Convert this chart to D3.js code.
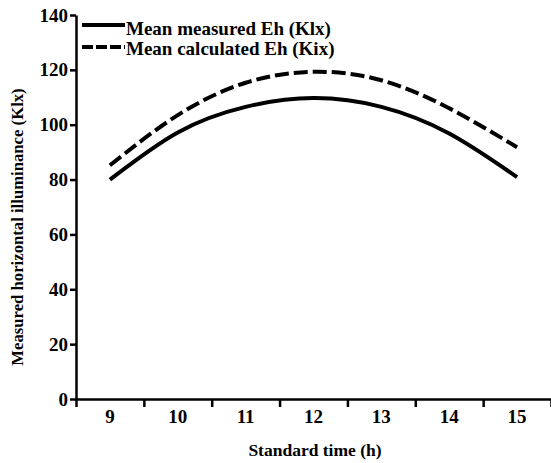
<!DOCTYPE html>
<html>
<head>
<meta charset="utf-8">
<script src="https://cdn.jsdelivr.net/npm/d3@7"></script>
</head>
<body style="margin:0">
<script>
var hours = [9, 10, 11, 12, 13, 14, 15];
var measured = [80, 97.2, 106.5, 109.7, 106.5, 96.8, 80.9];
var calculated = [85.2, 103.5, 115.3, 119.3, 116.2, 106, 91.8];
var yTicks = [0, 20, 40, 60, 80, 100, 120, 140];
var seriesNames = ['Mean measured Eh (Klx)', 'Mean calculated Eh (Kix)'];

var W = 551, H = 463;
var margin = { top: 15, right: 0, bottom: 64, left: 76 };
var FONT = "'Liberation Serif'";

var svg = d3.select('body').append('svg')
  .attr('width', W)
  .attr('height', H)
  .style('font-family', FONT)
  .style('font-weight', 'bold');

var x = d3.scaleLinear().domain([8.5, 15.5]).range([margin.left, W - margin.right]);
var y = d3.scaleLinear().domain([0, 140]).range([H - margin.bottom, margin.top]);

// y axis
var yAxis = svg.append('g')
  .attr('transform', 'translate(' + margin.left + ',0)')
  .call(d3.axisLeft(y).tickValues(yTicks).tickSize(6).tickPadding(2).tickSizeOuter(0));
yAxis.attr('font-family', null).attr('font-size', null);
yAxis.select('.domain').attr('stroke-width', 2.5);
yAxis.selectAll('.tick line').attr('stroke-width', 2.5);
yAxis.selectAll('.tick text')
  .style('font-family', FONT)
  .style('font-size', '19px');

// x axis: ticks on band edges, labels in the middle
var edges = d3.range(8.5, 16, 1);
var xAxis = svg.append('g')
  .attr('transform', 'translate(0,' + y(0) + ')')
  .call(d3.axisBottom(x).tickValues(edges).tickSize(8).tickSizeOuter(0).tickFormat(''));
xAxis.select('.domain').attr('stroke-width', 2.5);
xAxis.selectAll('.tick line').attr('stroke-width', 2.5);

svg.append('g').selectAll('text')
  .data(hours)
  .enter().append('text')
  .attr('x', function(d) { return x(d); })
  .attr('y', y(0) + 24)
  .attr('text-anchor', 'middle')
  .style('font-family', FONT)
  .style('font-size', '19px')
  .text(function(d) { return d; });

// titles
svg.append('text')
  .attr('x', 315)
  .attr('y', 456)
  .attr('text-anchor', 'middle')
  .style('font-family', FONT)
  .style('font-size', '17.5px')
  .text('Standard time (h)');

svg.append('text')
  .attr('transform', 'translate(23,227) rotate(-90)')
  .attr('text-anchor', 'middle')
  .style('font-family', FONT)
  .style('font-size', '16.7px')
  .text('Measured horizontal illuminance (Klx)');

// curves
var line = d3.line()
  .x(function(d, i) { return x(hours[i]); })
  .y(function(d) { return y(d); })
  .curve(d3.curveNatural);

svg.append('path')
  .attr('d', line(measured))
  .attr('fill', 'none')
  .attr('stroke', '#000')
  .attr('stroke-width', 4);

svg.append('path')
  .attr('d', line(calculated))
  .attr('fill', 'none')
  .attr('stroke', '#000')
  .attr('stroke-width', 4)
  .attr('stroke-dasharray', '14,5');

// legend
var legend = svg.selectAll('.legend')
  .data(seriesNames)
  .enter().append('g')
  .attr('class', 'legend')
  .attr('transform', function(d, i) { return 'translate(82,' + (25 + i * 22) + ')'; });

legend.append('line')
  .attr('x1', 0)
  .attr('x2', 43)
  .attr('stroke', '#000')
  .attr('stroke-width', 4)
  .attr('stroke-dasharray', function(d, i) { return i === 1 ? '11,3' : null; });

legend.append('text')
  .attr('x', 44)
  .attr('y', function(d, i) { return i === 0 ? 10 : 8; })
  .style('font-family', FONT)
  .style('font-size', '19px')
  .text(function(d) { return d; });
</script>
</body>
</html>
